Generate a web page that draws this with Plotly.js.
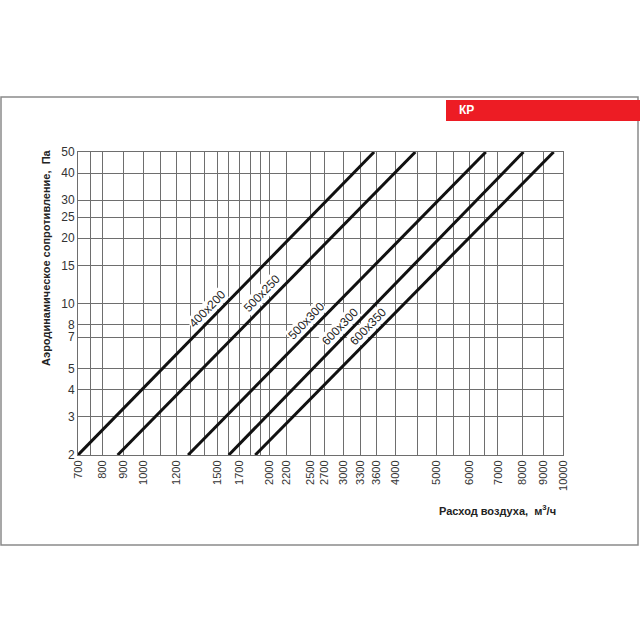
<!DOCTYPE html>
<html>
<head>
<meta charset="utf-8">
<script src="https://cdn.plot.ly/plotly-3.0.1.min.js"></script>
<style>html,body{margin:0;padding:0;background:#fff;}#chart{width:640px;height:640px;}</style>
</head>
<body>
<div id="chart"></div>
<script>
// ---- data ----
const sizes = ['400x200', '500x250', '500x300', '600x300', '600x350'];
const flowAtMinPressure = [700, 870, 1280, 1600, 1850];     // м³/ч at 2 Па
const flowAtMaxPressure = [3550, 4450, 6550, 8050, 9500];   // м³/ч at 50 Па
const pressureEnds = [2, 50];                                 // Па
const xTickLabels = [700, 800, 900, 1000, 1200, 1500, 1700, 2000, 2200, 2500, 2700, 3000, 3300, 3600, 4000, 5000, 6000, 7000, 8000, 9000, 10000];
const xExtraGrid = [750, 1100, 1300, 1400, 1600, 1800, 1900, 4500, 5500, 6500];
const yTickValues = [2, 3, 4, 5, 7, 8, 10, 15, 20, 25, 30, 40, 50];

// ---- layout geometry (pixels) ----
const L = 78, R = 563, T = 152, B = 455;
const W = R - L, H = B - T;
const px = x => (x - L) / W;
const py = y => (B - y) / H;
const labelFrac = [0.46, 0.51, 0.42, 0.40, 0.40];

const FONT = 'Liberation Sans, Arial, sans-serif';

const traces = sizes.map((s, i) => ({
  type: 'scatter', mode: 'lines', name: s,
  x: [flowAtMinPressure[i], flowAtMaxPressure[i]],
  y: pressureEnds,
  line: {color: '#111', width: 3},
  hoverinfo: 'x+y+name', showlegend: false
}));

const annotations = sizes.map((s, i) => {
  const lx0 = Math.log10(flowAtMinPressure[i]), lx1 = Math.log10(flowAtMaxPressure[i]);
  const ly0 = Math.log10(pressureEnds[0]), ly1 = Math.log10(pressureEnds[1]);
  const t = labelFrac[i];
  return {
    x: lx0 + t * (lx1 - lx0), y: ly0 + t * (ly1 - ly0), xref: 'x', yref: 'y',
    text: s, showarrow: false, textangle: -46, xshift: -7, yshift: 7,
    font: {family: FONT, size: 12, color: '#222'}, bgcolor: '#fff', borderpad: 0
  };
});

annotations.push({
  xref: 'paper', yref: 'paper', x: px(46), y: py(258), text: '<b>Аэродинамическое сопротивление,  Па</b>',
  textangle: -90, showarrow: false, xanchor: 'center', yanchor: 'middle',
  font: {family: FONT, size: 11, color: '#222'}
});
annotations.push({
  xref: 'paper', yref: 'paper', x: px(558), y: py(510), text: '<b>Расход воздуха,  м<sup>3</sup>/ч</b>',
  showarrow: false, xanchor: 'right', yanchor: 'middle',
  font: {family: FONT, size: 11, color: '#222'}
});
annotations.push({
  xref: 'paper', yref: 'paper', x: px(457), y: py(110.5), text: '<b>КР</b>',
  showarrow: false, xanchor: 'left', yanchor: 'middle',
  font: {family: FONT, size: 12, color: '#fff'}
});

const layout = {
  width: 640, height: 640,
  margin: {l: L, r: 640 - R, t: T, b: 640 - B, pad: 0},
  paper_bgcolor: '#fff', plot_bgcolor: '#fff',
  showlegend: false,
  xaxis: {
    type: 'log', range: [Math.log10(700), Math.log10(10000)],
    tickmode: 'array', tickvals: xTickLabels, ticktext: xTickLabels.map(String),
    tickangle: -90, ticks: '', showgrid: true, gridcolor: '#6e6e6e', gridwidth: 1,
    minor: {tickmode: 'array', tickvals: xExtraGrid, showgrid: true, gridcolor: '#6e6e6e', gridwidth: 1, ticks: ''},
    showline: true, mirror: true, linecolor: '#6e6e6e', linewidth: 1, zeroline: false,
    tickfont: {family: FONT, size: 11, color: '#333'}
  },
  yaxis: {
    type: 'log', range: [Math.log10(2), Math.log10(50)],
    tickmode: 'array', tickvals: yTickValues, ticktext: yTickValues.map(String),
    ticks: '', showgrid: true, gridcolor: '#6e6e6e', gridwidth: 1,
    showline: true, mirror: true, linecolor: '#6e6e6e', linewidth: 1, zeroline: false,
    tickfont: {family: FONT, size: 12, color: '#333'}
  },
  shapes: [
    {type: 'rect', xref: 'paper', yref: 'paper', x0: px(1), x1: px(638), y0: py(545), y1: py(97),
     line: {color: '#8a8a8a', width: 1.5}, fillcolor: 'rgba(0,0,0,0)', layer: 'below'},
    {type: 'rect', xref: 'paper', yref: 'paper', x0: px(446), x1: px(640), y0: py(121), y1: py(100),
     line: {width: 0}, fillcolor: '#ed1c24', layer: 'below'}
  ],
  annotations: annotations
};

Plotly.newPlot('chart', traces, layout, {displayModeBar: false, staticPlot: true});
</script>
</body>
</html>
